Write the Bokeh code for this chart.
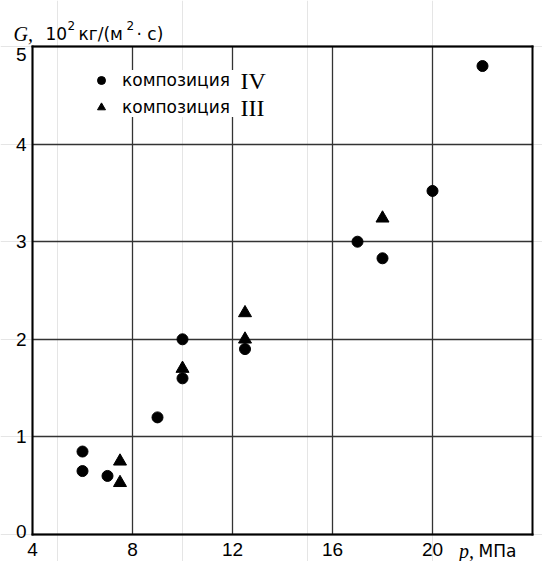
from bokeh.plotting import figure
from bokeh.models import (ColumnDataSource, FixedTicker, Grid, Label, Legend, LegendItem,
                          LinearAxis, Range1d)
from bokeh.embed import file_html
from bokeh.resources import INLINE

# ---- data ----
p_iv = [6, 6, 7, 9, 10, 10, 12.5, 17, 18, 20, 22]
g_iv = [0.85, 0.65, 0.6, 1.2, 2.0, 1.6, 1.9, 3.0, 2.83, 3.52, 4.8]
p_iii = [7.5, 7.5, 10, 12.5, 12.5, 18]
g_iii = [0.75, 0.53, 1.7, 2.27, 2.0, 3.24]
x_ticks = [4, 8, 12, 16, 20]
y_ticks = [0, 1, 2, 3, 4, 5]
x_limits = (4, 24)
y_limits = (0, 5)
legend_word = "композиция"
series_iv = "IV"
series_iii = "III"
x_title_var = "p,"
x_title_unit = "МПа"

SANS = "Liberation Sans"
WIDE = "DejaVu Sans"
SERIF = "Liberation Serif"

# ---- layout (pixels on the canvas) ----
CW, CH = 542, 561
BOX_L, BOX_R, BOX_T, BOX_B = 32, 532, 46, 534
sx = (BOX_R - BOX_L) / (x_limits[1] - x_limits[0])
sy = (BOX_B - BOX_T) / (y_limits[1] - y_limits[0])
x_range = Range1d(x_limits[0] - BOX_L / sx, x_limits[1] + (CW - BOX_R) / sx)
y_range = Range1d(y_limits[0] - (CH - BOX_B) / sy, y_limits[1] + BOX_T / sy)


def px_to_x(px):
    return x_limits[0] + (px - BOX_L) / sx


p = figure(frame_width=CW, frame_height=CH, min_border=0,
           x_range=x_range, y_range=y_range,
           x_axis_location=None, y_axis_location=None,
           output_backend="svg", toolbar_location=None, tools="")
p.background_fill_color = "white"
p.border_fill_color = "white"
p.outline_line_color = None


# ---- axes forming the box ----
def make_axis(side, loc, bounds, ticks, standoff=6, overrides=None, line=True,
              font=SANS, size="19px", style="normal"):
    ax = LinearAxis(fixed_location=loc, bounds=bounds, ticker=FixedTicker(ticks=ticks))
    ax.axis_line_color = "black" if line else None
    ax.axis_line_width = 2
    ax.axis_line_cap = "square"
    ax.major_tick_line_color = None
    ax.minor_tick_line_color = None
    ax.major_tick_out = 0
    ax.major_tick_in = 0
    ax.major_label_text_font = font
    ax.major_label_text_font_size = size
    ax.major_label_text_font_style = style
    ax.major_label_text_color = "black"
    ax.major_label_standoff = standoff
    if overrides:
        ax.major_label_overrides = overrides
    p.add_layout(ax, side)
    return ax


# end labels of the y axis sit slightly inside the box, as in the reference
y_label_pos = list(y_ticks)
y_label_pos[0] = y_ticks[0] + 3 / sy
y_label_pos[-1] = y_ticks[-1] - 8 / sy
y_overrides = {pos: str(t) for pos, t in zip(y_label_pos, y_ticks)}

make_axis("below", y_limits[0], x_limits, x_ticks, standoff=8)
make_axis("left", x_limits[0], y_limits, y_label_pos, standoff=6, overrides=y_overrides)
make_axis("above", y_limits[1], x_limits, [])
make_axis("right", x_limits[1], y_limits, [])

# x axis title on the tick-label line, right of "20": "p," (italic serif) + "МПа"
pos_var = px_to_x(466)
pos_unit = px_to_x(497)
make_axis("below", y_limits[0], x_limits, [pos_var], standoff=5,
          overrides={pos_var: x_title_var}, line=False, font=SERIF, size="20px",
          style="italic")
make_axis("below", y_limits[0], x_limits, [pos_unit], standoff=6,
          overrides={pos_unit: x_title_unit}, line=False, font=WIDE, size="17px")

gx = Grid(dimension=0, ticker=FixedTicker(ticks=x_ticks), cross_bounds=y_limits,
          grid_line_color="#333333", grid_line_width=1.3)
gy = Grid(dimension=1, ticker=FixedTicker(ticks=y_ticks), cross_bounds=x_limits,
          grid_line_color="#333333", grid_line_width=1.3)
p.add_layout(gx)
p.add_layout(gy)

# ---- data ----
src_iv = ColumnDataSource(dict(x=p_iv, y=g_iv))
src_iii = ColumnDataSource(dict(x=p_iii, y=g_iii))
r_iv = p.scatter("x", "y", source=src_iv, marker="circle", size=11,
                 fill_color="black", line_color="black")
r_iii = p.scatter("x", "y", source=src_iii, marker="triangle", size=13,
                  fill_color="black", line_color="black")

# legend box (white, hides the grid lines behind it)
legend = Legend(items=[LegendItem(label=legend_word, renderers=[r_iv]),
                       LegendItem(label=legend_word, renderers=[r_iii])],
                location=(91, CH - 117), orientation="vertical",
                glyph_width=20, glyph_height=20, label_height=20, label_width=114,
                spacing=7, padding=0, margin=0, label_standoff=11,
                border_line_alpha=0, background_fill_color="white",
                background_fill_alpha=1,
                label_text_font=WIDE, label_text_font_size="17px",
                label_text_color="black", label_text_baseline="middle")
p.add_layout(legend, "center")


def lab(x, y, text, font, size, style="normal", baseline="alphabetic", align="left"):
    p.add_layout(Label(x=x, y=y, x_units="screen", y_units="screen", text=text,
                       text_font=font, text_font_size=size, text_font_style=style,
                       text_baseline=baseline, text_align=align, text_color="black",
                       level="overlay"))


# roman numerals next to legend entries
lab(240, CH - 80, series_iv, SERIF, "24px", baseline="middle")
lab(240, CH - 107, series_iii, SERIF, "24px", baseline="middle")

# y axis title: G, 10^2 кг/(м^2·с)
TB = CH - 33
lab(13, TB, "G,", SERIF, "20px", style="italic")
lab(45, TB, "10", WIDE, "17px")
lab(67, TB + 8, "2", WIDE, "12px")
lab(78, TB, "кг/(м", WIDE, "17px")
lab(126, TB + 8, "2", WIDE, "12px")
lab(136, TB, "· с)", WIDE, "17px")

open("out.html", "w").write(file_html(p, INLINE))
